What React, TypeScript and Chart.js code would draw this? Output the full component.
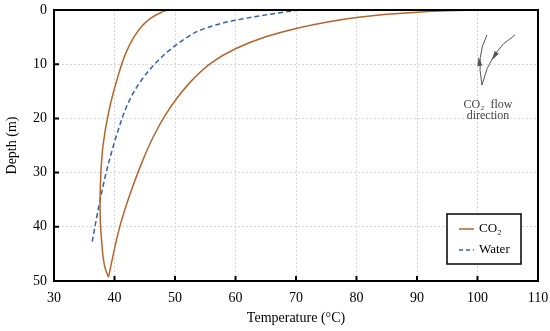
import { useEffect, useRef } from "react";
import { Chart, registerables } from "chart.js";
Chart.register(...registerables);

// CO2 injection branch (hot, right curve) – temperature (°C) vs depth (m)
const co2InjTemp = [100, 95, 90, 85, 80, 75, 70, 65, 60, 56, 53, 50.5, 48.5, 46.5, 44.5, 42.5, 40.8, 39];
const co2InjDepth = [0, 0.15, 0.4, 0.8, 1.4, 2.25, 3.4, 4.95, 7.15, 9.75, 12.75, 16.0, 19.2, 23.2, 28.2, 34.2, 40.3, 49.3];
// CO2 return branch (left curve, going up)
const co2RetTemp = [39, 38.4, 37.85, 37.6, 37.75, 38.1, 39.1, 40.5, 41.85, 43.2, 44.5, 46, 47.6, 48.7];
const co2RetDepth = [49.3, 47.4, 42.4, 36.3, 30, 25, 18.5, 12.5, 8, 5, 3, 1.5, 0.5, 0];
// Water
const waterTemp = [70.5, 65, 59.5, 56.6, 54, 52.2, 49.1, 46.2, 43.7, 42, 40.8, 39.7, 38.6, 37.4, 36.3];
const waterDepth = [0, 0.9, 2.0, 2.8, 3.8, 4.9, 7.4, 10.5, 14.2, 17.8, 21.5, 25.5, 30.1, 36.3, 42.8];

const xTicks = [30, 40, 50, 60, 70, 80, 90, 100, 110];
const yTicks = [0, 10, 20, 30, 40, 50];

const CO2_COLOR = "#B5652B";
const WATER_COLOR = "#3560A8";
const FONT = '"Liberation Serif", "Times New Roman", serif';

const pts = (xs: number[], ys: number[]) => xs.map((x, i) => ({ x, y: ys[i] }));

const decorPlugin = {
  id: "decor",
  afterDraw(chart: any) {
    const { ctx, chartArea: a, scales } = chart;
    ctx.save();
    ctx.strokeStyle = "#000";
    ctx.lineWidth = 2;
    // inward ticks
    ctx.beginPath();
    for (const v of xTicks.slice(1, -1)) {
      const px = scales.x.getPixelForValue(v);
      ctx.moveTo(px, a.bottom);
      ctx.lineTo(px, a.bottom - 5);
    }
    for (const v of yTicks.slice(1, -1)) {
      const py = scales.y.getPixelForValue(v);
      ctx.moveTo(a.left, py);
      ctx.lineTo(a.left + 5, py);
    }
    ctx.stroke();
    // frame
    ctx.strokeRect(a.left, a.top, a.right - a.left, a.bottom - a.top);

    // legend box
    const bw = 74, bh = 50;
    const bx = a.right - 17 - bw, by = a.bottom - 17 - bh;
    ctx.fillStyle = "#fff";
    ctx.fillRect(bx, by, bw, bh);
    ctx.lineWidth = 1.5;
    ctx.strokeRect(bx, by, bw, bh);
    ctx.strokeStyle = CO2_COLOR;
    ctx.beginPath();
    ctx.moveTo(bx + 12, by + 15);
    ctx.lineTo(bx + 27, by + 15);
    ctx.stroke();
    ctx.strokeStyle = WATER_COLOR;
    ctx.setLineDash([4, 3]);
    ctx.beginPath();
    ctx.moveTo(bx + 12, by + 36);
    ctx.lineTo(bx + 27, by + 36);
    ctx.stroke();
    ctx.setLineDash([]);
    ctx.fillStyle = "#000";
    ctx.font = `13px ${FONT}`;
    ctx.textBaseline = "middle";
    ctx.textAlign = "left";
    ctx.fillText("CO₂", bx + 32, by + 15);
    ctx.fillText("Water", bx + 32, by + 36);

    // flow direction annotation
    const ox = a.right - 56, oy = a.top + 75;
    ctx.strokeStyle = "#555";
    ctx.fillStyle = "#555";
    ctx.lineWidth = 1;
    ctx.beginPath();
    ctx.moveTo(ox, oy);
    ctx.quadraticCurveTo(ox - 6, oy - 30, ox + 5, oy - 50);
    ctx.stroke();
    ctx.beginPath();
    ctx.moveTo(ox + 33, oy - 50);
    ctx.quadraticCurveTo(ox + 8, oy - 35, ox, oy);
    ctx.stroke();
    const head = (x: number, y: number, ang: number) => {
      ctx.save();
      ctx.translate(x, y);
      ctx.rotate(ang);
      ctx.beginPath();
      ctx.moveTo(0, 0);
      ctx.lineTo(-9, -2.5);
      ctx.lineTo(-9, 2.5);
      ctx.closePath();
      ctx.fill();
      ctx.restore();
    };
    head(ox - 3.5, oy - 28, -Math.PI / 2 - 0.15);
    head(ox + 10, oy - 25, Math.PI / 2 + 0.55);
    ctx.font = `12px ${FONT}`;
    ctx.textAlign = "center";
    ctx.fillStyle = "#444";
    ctx.fillText("CO₂  flow", ox + 6, oy + 20);
    ctx.fillText("direction", ox + 6, oy + 31);
    ctx.restore();
  },
};

export default function App() {
  const ref = useRef<HTMLCanvasElement>(null);
  useEffect(() => {
    if (!ref.current) return;
    const common = { pointRadius: 0, borderWidth: 1.5, cubicInterpolationMode: "monotone", fill: false };
    const chart = new Chart(ref.current, {
      type: "line",
      data: {
        datasets: [
          { label: "CO₂", data: pts(co2InjTemp, co2InjDepth), borderColor: CO2_COLOR, ...common },
          { label: "CO₂ return", data: pts(co2RetTemp, co2RetDepth), borderColor: CO2_COLOR, ...common },
          { label: "Water", data: pts(waterTemp, waterDepth), borderColor: WATER_COLOR, borderDash: [5, 3], ...common },
        ],
      },
      options: {
        indexAxis: "y",
        responsive: false,
        animation: false,
        layout: { padding: { top: 10, right: 12, left: 0, bottom: 0 } },
        plugins: { legend: { display: false }, tooltip: { enabled: false } },
        scales: {
          x: {
            type: "linear",
            min: 30,
            max: 110,
            afterBuildTicks: (s: any) => { s.ticks = xTicks.map((v) => ({ value: v })); },
            afterFit: (s: any) => { s.height = 50; s.paddingLeft = 0; s.paddingRight = 0; },
            ticks: { color: "#000", font: { family: FONT, size: 14 }, padding: 9 },
            grid: { color: "#d8d8d8", drawTicks: false, lineWidth: 1 },
            border: { display: false, dash: [2, 2] },
            title: { display: true, text: "Temperature (°C)", color: "#000", font: { family: FONT, size: 14 } },
          },
          y: {
            type: "linear",
            reverse: true,
            min: 0,
            max: 50,
            afterBuildTicks: (s: any) => { s.ticks = yTicks.map((v) => ({ value: v })); },
            afterFit: (s: any) => { s.width = 54; s.paddingTop = 0; s.paddingBottom = 0; },
            ticks: { color: "#000", font: { family: FONT, size: 14 }, padding: 7 },
            grid: { color: "#d8d8d8", drawTicks: false, lineWidth: 1 },
            border: { display: false, dash: [2, 2] },
            title: { display: true, text: "Depth (m)", color: "#000", font: { family: FONT, size: 14 } },
          },
        },
      },
      plugins: [decorPlugin],
    } as any);
    return () => chart.destroy();
  }, []);
  return (
    <div style={{ position: "fixed", left: 0, top: 0, width: 550, height: 331, background: "#fff" }}>
      <canvas ref={ref} width={550} height={331} />
    </div>
  );
}
